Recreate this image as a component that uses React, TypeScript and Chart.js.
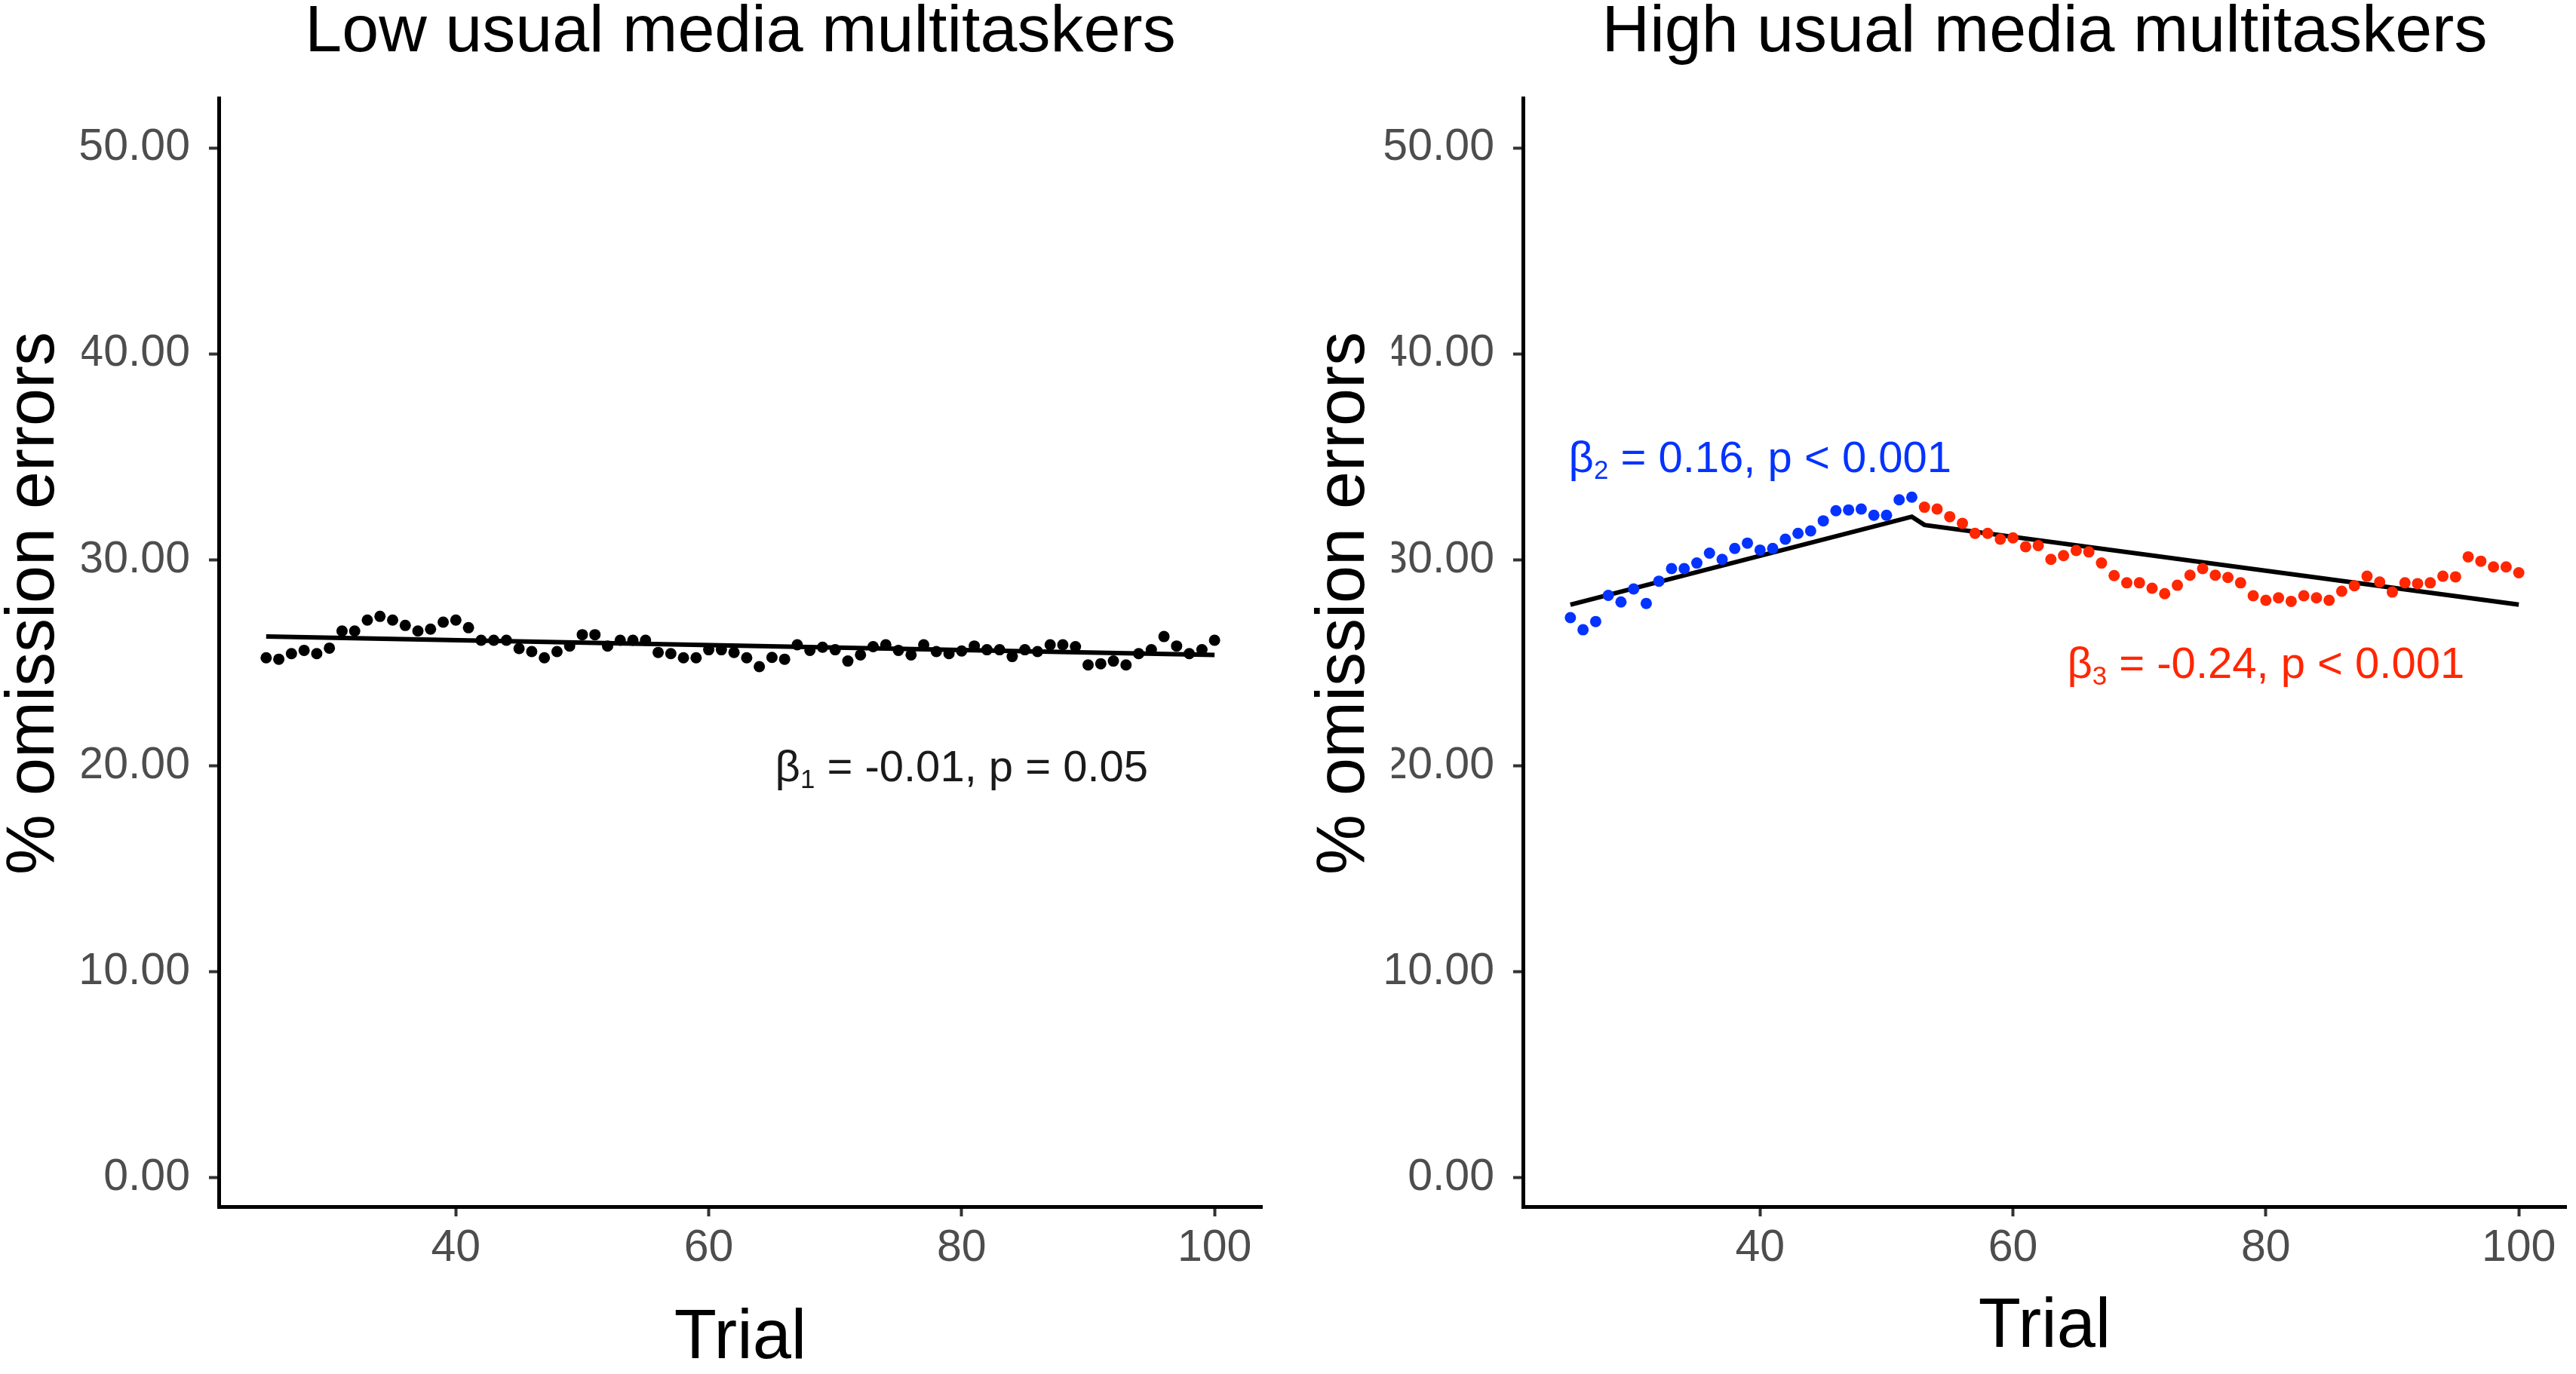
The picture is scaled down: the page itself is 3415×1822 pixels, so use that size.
import { useEffect, useRef } from 'react';
import { Chart, registerables } from 'chart.js';

Chart.register(...registerables);

const FONT = "'Liberation Sans', Arial, Helvetica, sans-serif";

const trials = [
    25, 26, 27, 28, 29, 30, 31, 32, 33, 34, 35, 36, 37, 38, 39, 40, 41, 42, 43, 44,
    45, 46, 47, 48, 49, 50, 51, 52, 53, 54, 55, 56, 57, 58, 59, 60, 61, 62, 63, 64,
    65, 66, 67, 68, 69, 70, 71, 72, 73, 74, 75, 76, 77, 78, 79, 80, 81, 82, 83, 84,
    85, 86, 87, 88, 89, 90, 91, 92, 93, 94, 95, 96, 97, 98, 99, 100,
];

// % omission errors, low usual media multitaskers
const lowErrors = [
    25.24, 25.17, 25.44, 25.60, 25.44, 25.71, 26.54, 26.54, 27.07, 27.25,
    27.07, 26.81, 26.54, 26.63, 26.97, 27.07, 26.70, 26.09, 26.09, 26.09,
    25.69, 25.54, 25.24, 25.54, 25.81, 26.36, 26.36, 25.81, 26.09, 26.09,
    26.09, 25.50, 25.44, 25.24, 25.24, 25.63, 25.63, 25.50, 25.24, 24.81,
    25.26, 25.17, 25.87, 25.60, 25.75, 25.63, 25.08, 25.38, 25.78, 25.87,
    25.60, 25.38, 25.87, 25.54, 25.44, 25.57, 25.81, 25.63, 25.63, 25.30,
    25.63, 25.54, 25.87, 25.87, 25.78, 24.89, 24.95, 25.08, 24.89, 25.44,
    25.63, 26.27, 25.81, 25.44, 25.63, 26.09,
];

// % omission errors, high usual media multitaskers
const highErrors = [
    27.19, 26.60, 27.00, 28.27, 27.95, 28.58, 27.88, 28.96, 29.57, 29.57,
    29.84, 30.32, 30.02, 30.55, 30.81, 30.47, 30.55, 31.00, 31.28, 31.40,
    31.89, 32.38, 32.42, 32.46, 32.16, 32.16, 32.91, 33.04, 32.55, 32.46,
    32.09, 31.77, 31.28, 31.28, 31.00, 31.06, 30.63, 30.69, 30.02, 30.20,
    30.45, 30.38, 29.84, 29.23, 28.88, 28.88, 28.62, 28.35, 28.76, 29.25,
    29.57, 29.25, 29.14, 28.88, 28.25, 28.03, 28.15, 27.98, 28.25, 28.15,
    28.03, 28.47, 28.74, 29.20, 28.92, 28.43, 28.88, 28.84, 28.88, 29.20,
    29.17, 30.14, 29.93, 29.65, 29.65, 29.37,
];
const breakTrial = 52;

// fitted lines
const lowFitTrials = [25, 100];
const lowFitErrors = [26.27, 25.38];
const highFitTrials = [25, 52, 53, 100];
const highFitErrors = [27.82, 32.09, 31.69, 27.82];

const xTickValues = [40, 60, 80, 100];
const yTickValues = [0, 10, 20, 30, 40, 50];

const BLUE = '#0433FF';
const RED = '#FF2600';

const toXY = (xs: number[], ys: number[]) => xs.map((x, i) => ({ x, y: ys[i] }));

interface Note { x: number; y: number; sub: string; text: string; color: string }

const betaNotesPlugin = {
    id: 'betaNotes',
    afterDatasetsDraw(chart: any, _args: any, opts: any) {
        const { ctx, scales } = chart;
        const size = 58;
        const subSize = size * 0.6;
        (opts.notes as Note[]).forEach((n) => {
            const cx = scales.x.getPixelForValue(n.x);
            const cy = scales.y.getPixelForValue(n.y);
            ctx.save();
            ctx.fillStyle = n.color;
            ctx.textAlign = 'left';
            ctx.textBaseline = 'alphabetic';
            ctx.font = `${size}px ${FONT}`;
            const wB = ctx.measureText('β').width;
            const wT = ctx.measureText(n.text).width;
            ctx.font = `${subSize}px ${FONT}`;
            const wS = ctx.measureText(n.sub).width;
            let x = cx - (wB + wS + wT) / 2;
            const base = cy + size * 0.35;
            ctx.font = `${size}px ${FONT}`;
            ctx.fillText('β', x, base);
            x += wB;
            ctx.font = `${subSize}px ${FONT}`;
            ctx.fillText(n.sub, x, base + size * 0.16);
            x += wS;
            ctx.font = `${size}px ${FONT}`;
            ctx.fillText(n.text, x, base);
            ctx.restore();
        });
    },
};

// y title drawn on a white box, as in the original figure
const yTitlePlugin = {
    id: 'yTitle',
    afterDraw(chart: any, _args: any, opts: any) {
        const { ctx, chartArea } = chart;
        ctx.save();
        ctx.font = `90px ${FONT}`;
        const w = ctx.measureText(opts.text).width;
        ctx.translate(opts.x, chartArea.top + opts.dy);
        ctx.rotate(-Math.PI / 2);
        ctx.fillStyle = '#fff';
        ctx.fillRect(-w / 2 - 14, -62, w + 28, 124);
        ctx.fillStyle = '#000';
        ctx.textAlign = 'center';
        ctx.textBaseline = 'middle';
        ctx.fillText(opts.text, 0, 0);
        ctx.restore();
    },
};

interface PanelProps {
    title: string;
    left: number;
    width: number;
    axisWidth: number;
    padRight: number;
    yTitleX: number;
    xTitlePad: number;
    datasets: any[];
    notes: Note[];
}

function Panel({ title, left, width, axisWidth, padRight, yTitleX, xTitlePad, datasets, notes }: PanelProps) {
    const canvasRef = useRef<HTMLCanvasElement>(null);

    useEffect(() => {
        if (!canvasRef.current) return;
        const chart = new Chart(canvasRef.current, {
            type: 'scatter',
            data: { datasets },
            options: {
                animation: false,
                responsive: true,
                maintainAspectRatio: false,
                layout: { padding: { left: 0, right: padRight, top: 0, bottom: 0 } },
                plugins: {
                    legend: { display: false },
                    tooltip: { enabled: false },
                    title: {
                        display: true,
                        text: title,
                        fullSize: false,
                        color: '#000',
                        font: { family: FONT, size: 88, weight: 'normal', lineHeight: 1 },
                        padding: { top: 0, bottom: 42 },
                    },
                    betaNotes: { notes },
                    yTitle: { text: '% omission errors', x: yTitleX, dy: 670 },
                } as any,
                scales: {
                    x: {
                        type: 'linear',
                        position: 'bottom',
                        min: 21.25,
                        max: 103.75,
                        afterBuildTicks: (s: any) => { s.ticks = xTickValues.map((value) => ({ value })); },
                        afterFit: (s: any) => { s.height = 222; },
                        grid: { drawOnChartArea: false, drawTicks: true, tickLength: 13, tickWidth: 4, tickColor: '#333' },
                        border: { display: true, color: '#000', width: 5 },
                        ticks: { color: '#4D4D4D', font: { family: FONT, size: 59 }, padding: 7, maxRotation: 0, autoSkip: false },
                        title: {
                            display: true,
                            text: 'Trial',
                            color: '#000',
                            font: { family: FONT, size: 92, lineHeight: 1 },
                            padding: { top: 0, bottom: xTitlePad },
                        },
                    },
                    y: {
                        type: 'linear',
                        position: 'left',
                        min: -1.41,
                        max: 52.42,
                        afterBuildTicks: (s: any) => { s.ticks = yTickValues.map((value) => ({ value })); },
                        afterFit: (s: any) => { s.width = axisWidth; },
                        grid: { drawOnChartArea: false, drawTicks: true, tickLength: 13, tickWidth: 4, tickColor: '#333' },
                        border: { display: true, color: '#000', width: 5 },
                        ticks: {
                            color: '#4D4D4D',
                            font: { family: FONT, size: 59 },
                            padding: 25,
                            autoSkip: false,
                            callback: (v: any) => Number(v).toFixed(2),
                        },
                    },
                },
            },
            plugins: [betaNotesPlugin, yTitlePlugin],
        });
        return () => chart.destroy();
    }, [title, axisWidth, padRight, yTitleX, xTitlePad, datasets, notes]);

    return (
        <div style={{ position: 'absolute', left, top: 0, width, height: 1822 }}>
            <canvas ref={canvasRef} />
        </div>
    );
}

const pointStyle = (color: string) => ({
    backgroundColor: color,
    borderWidth: 0,
    pointRadius: 7.5,
    pointHoverRadius: 7.5,
    showLine: false,
    order: 1,
});

const fitStyle = {
    borderColor: '#000',
    borderWidth: 6,
    pointRadius: 0,
    showLine: true,
    fill: false,
    tension: 0,
    order: 2,
};

const lowDatasets = [
    { label: 'fit', data: toXY(lowFitTrials, lowFitErrors), ...fitStyle },
    { label: 'Low', data: toXY(trials, lowErrors), ...pointStyle('#000') },
];

const highPoints = toXY(trials, highErrors);
const highDatasets = [
    { label: 'fit', data: toXY(highFitTrials, highFitErrors), ...fitStyle },
    { label: 'early', data: highPoints.filter((p) => p.x <= breakTrial), ...pointStyle(BLUE) },
    { label: 'late', data: highPoints.filter((p) => p.x > breakTrial), ...pointStyle(RED) },
];

const lowNotes: Note[] = [{ x: 80, y: 20, sub: '1', text: ' = -0.01, p = 0.05', color: '#1A1A1A' }];
const highNotes: Note[] = [
    { x: 40, y: 35, sub: '2', text: ' = 0.16, p < 0.001', color: BLUE },
    { x: 80, y: 25, sub: '3', text: ' = -0.24, p < 0.001', color: RED },
];

export default function App() {
    return (
        <div style={{ position: 'absolute', left: 0, top: 0, width: 3415, height: 1822, background: '#fff' }}>
            <Panel
                title="Low usual media multitaskers"
                left={0}
                width={1707}
                axisWidth={290}
                padRight={34}
                yTitleX={46.5}
                xTitlePad={0}
                datasets={lowDatasets}
                notes={lowNotes}
            />
            <Panel
                title="High usual media multitaskers"
                left={1707}
                width={1708}
                axisWidth={312}
                padRight={13}
                yTitleX={76}
                xTitlePad={15}
                datasets={highDatasets}
                notes={highNotes}
            />
        </div>
    );
}
